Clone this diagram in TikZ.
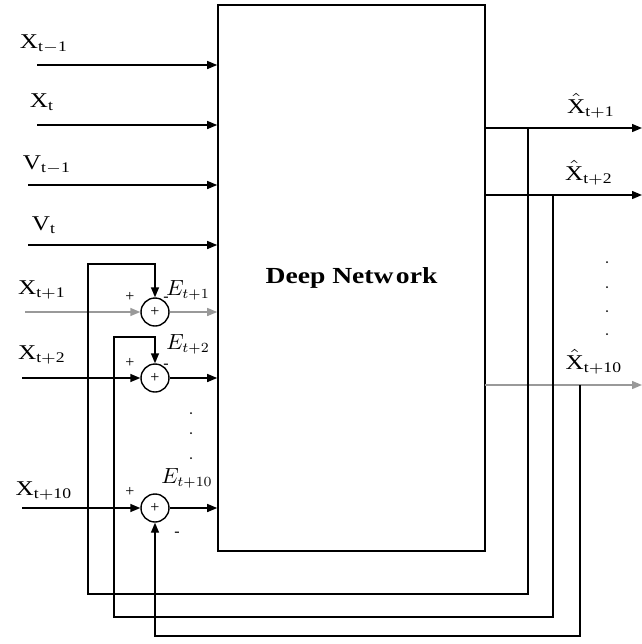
\documentclass[tikz,border=0pt]{standalone}
\usepackage{amsmath}
\usepackage{graphicx}
\usepackage{fontspec}
\setmainfont{Liberation Serif}
\usetikzlibrary{positioning, calc, arrows.meta}

\newcommand{\wide}[1]{\scalebox{1.2}[1]{#1}}

\begin{document}
\begin{tikzpicture}[x=0.5pt, y=-0.5pt,
    font=\fontsize{10.5}{12}\selectfont,
    arr/.style={-{Triangle[length=5pt, width=4pt]}, line width=0.7pt},
    grayarr/.style={arr, draw=gray!80},
    netbox/.style={draw, line width=0.8pt, minimum width=133.5pt, minimum height=273pt, inner sep=0pt},
    sumnode/.style={draw, circle, line width=0.7pt, minimum size=14pt, inner sep=0pt, font=\fontsize{8}{9}\selectfont},
    sgn/.style={font=\fontsize{8}{9}\selectfont, inner sep=1pt}]
    \useasboundingbox (0,0) rectangle (642,644);

    % Deep network block
    \node[netbox] (net) at (351.5,278) {\fontsize{11.5}{13}\selectfont\wide{\textbf{Deep Netw\hspace{1pt}ork}}};

    % Plain inputs
    \coordinate (xa) at (37,65);
    \coordinate (xb) at (37,125);
    \coordinate (va) at (28,185);
    \coordinate (vb) at (28,245);
    \draw[arr] (xa) -- (xa -| net.west);
    \draw[arr] (xb) -- (xb -| net.west);
    \draw[arr] (va) -- (va -| net.west);
    \draw[arr] (vb) -- (vb -| net.west);
    \node (lxa) at (44,44) {\wide{X$_{\mathrm{t-1}}$}};
    \node (lxb) at (42,102) {\wide{X$_{\mathrm{t}}$}};
    \node (lva) at (47,165) {\wide{V$_{\mathrm{t-1}}$}};
    \node (lvb) at (44,225) {\wide{V$_{\mathrm{t}}$}};

    % Summing junctions
    \node[sumnode] (s1) at (155,312) {+};
    \node[sumnode] (s2) at (155,378) {+};
    \node[sumnode] (s3) at (155,508) {+};

    % Future inputs into the junctions
    \coordinate (xc) at (25,312);
    \coordinate (xd) at (22,378);
    \coordinate (xe) at (22,508);
    \draw[grayarr] (xc) -- (s1.west);
    \draw[arr] (xd) -- (s2.west);
    \draw[arr] (xe) -- (s3.west);
    \node (lxc) at (42,290) {\wide{X$_{\mathrm{t+1}}$}};
    \node (lxd) at (42,355) {\wide{X$_{\mathrm{t+2}}$}};
    \node (lxe) at (44,491) {\wide{X$_{\mathrm{t+10}}$}};

    % Junctions into the network
    \draw[grayarr] (s1.east) -- (s1.east -| net.west);
    \draw[arr] (s2.east) -- (s2.east -| net.west);
    \draw[arr] (s3.east) -- (s3.east -| net.west);

    % Signs and error labels
    \node[sgn] (p1) at (130,297) {+};
    \node[sgn] (p2) at (130,363) {+};
    \node[sgn] (p3) at (130,492) {+};
    \node[sgn] (m1) at (166,299) {-};
    \node[sgn] (m2) at (166,366) {-};
    \node[sgn] (m3) at (177,534) {-};
    \node (e1) at (188,290) {$E_{t+1}$};
    \node (e2) at (188,344) {$E_{t+2}$};
    \node (e3) at (187,478) {$E_{t+10}$};

    % Outputs
    \coordinate (ya) at (485,128);
    \coordinate (yb) at (485,195);
    \coordinate (yc) at (485,385);
    \draw[arr] (ya) -- (642,128) coordinate (oa);
    \draw[arr] (yb) -- (642,195) coordinate (ob);
    \draw[grayarr] (yc) -- (642,385) coordinate (oc);
    \node (loa) at (591,106) {\wide{$\hat{\mathrm{X}}_{\mathrm{t+1}}$}};
    \node (lob) at (589,173) {\wide{$\hat{\mathrm{X}}_{\mathrm{t+2}}$}};
    \node (loc) at (594,362) {\wide{$\hat{\mathrm{X}}_{\mathrm{t+10}}$}};

    % Feedback loops
    \coordinate (ta) at (528,128);
    \coordinate (tb) at (553,195);
    \coordinate (tc) at (580,385);
    \draw[arr] (ta) |- (88,594) |- (155,264) -- (s1.north);
    \draw[arr] (tb) |- (114,617) |- (155,337) -- (s2.north);
    \draw[arr] (tc) |- (155,636) -- (s3.south);

    % Ellipsis dots
    \foreach \y in {262,287,311,334}
        \fill (607,\y) circle (0.5pt);
    \foreach \y in {413,433,458}
        \fill (191,\y) circle (0.5pt);
\end{tikzpicture}
\end{document}
